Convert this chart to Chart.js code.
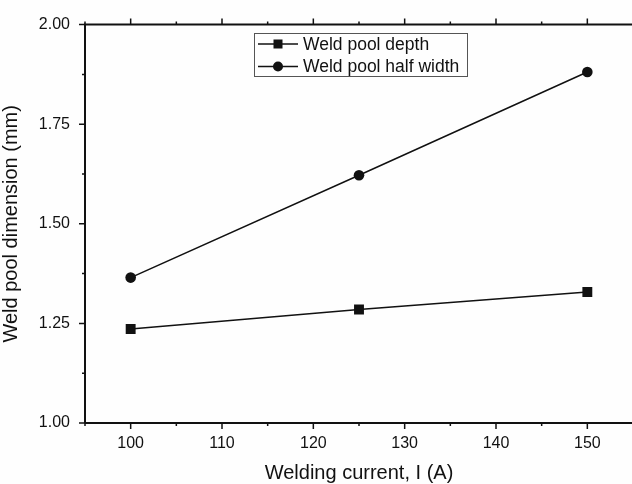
<!DOCTYPE html>
<html>
<head>
<meta charset="utf-8">
<script src="https://cdn.jsdelivr.net/npm/chart.js@4"></script>
<style>
body { margin:0; overflow:hidden; background:#fefefe; }
#wrap { position:absolute; left:0; top:0; width:640px; height:484px; }
</style>
</head>
<body>
<div id="wrap"><canvas id="chart"></canvas></div>
<script>
// ----------------------------------------------------------------------
const currents = [100, 125, 150]
const pool_depth = [1.236, 1.285, 1.329]
const pool_half_width = [1.365, 1.622, 1.881]
const x_ticks = [100, 110, 120, 130, 140, 150]
const y_ticks = [1.00, 1.25, 1.50, 1.75, 2.00]
const x_title = "Welding current, I (A)"
const y_title = "Weld pool dimension (mm)"

const FONT = "'Liberation Sans', Arial, sans-serif"
const INK = "#111"

// ----------------------------------------------------------------------
function to_points (xs, ys)
{
	return xs.map ((x, i) => ({x: x, y: ys[i]}))
}

// axis frame, ticks and legend, drawn on top of the chart
const frame_plugin = {
	id: 'frame',
	afterDraw (chart)
	{
		const ctx = chart.ctx
		const a = chart.chartArea
		const sx = chart.scales.x
		const sy = chart.scales.y
		ctx.save ()
		ctx.strokeStyle = INK
		ctx.lineWidth = 2
		ctx.beginPath ()
		ctx.moveTo (a.left, a.bottom)
		ctx.lineTo (a.left, a.top)
		ctx.lineTo (a.right, a.top)
		ctx.lineTo (a.right, a.bottom)
		ctx.lineTo (a.left, a.bottom)
		ctx.stroke ()

		ctx.lineWidth = 1.5
		ctx.beginPath ()
		for (let v = 95; v <= 155; v += 5)
			{
			const px = sx.getPixelForValue (v)
			const len = (v % 10 == 0) ? 6 : 3
			ctx.moveTo (px, a.bottom); ctx.lineTo (px, a.bottom + len)
			ctx.moveTo (px, a.top); ctx.lineTo (px, a.top - len)
			}
		for (let k = 0; k <= 8; k++)
			{
			const v = 1 + k * 0.125
			const py = sy.getPixelForValue (v)
			const len = (k % 2 == 0) ? 6 : 3
			ctx.moveTo (a.left, py); ctx.lineTo (a.left - len, py)
			ctx.moveTo (a.right, py); ctx.lineTo (a.right + len, py)
			}
		ctx.stroke ()

		// legend
		const bx = 254, by = 33, bw = 213, bh = 43
		ctx.fillStyle = "#fefefe"
		ctx.fillRect (bx, by, bw, bh)
		ctx.strokeStyle = "#555"
		ctx.lineWidth = 1
		ctx.strokeRect (bx + 0.5, by + 0.5, bw, bh)
		ctx.font = "17.5px " + FONT
		ctx.textBaseline = "middle"
		chart.data.datasets.forEach ((ds, i) =>
			{
			const cy = 44 + i * 22.5
			ctx.strokeStyle = INK
			ctx.lineWidth = 1.5
			ctx.beginPath ()
			ctx.moveTo (258, cy); ctx.lineTo (298, cy)
			ctx.stroke ()
			ctx.fillStyle = INK
			if (ds.pointStyle == 'rect')
				ctx.fillRect (278 - 4.5, cy - 4.5, 9, 9)
			else
				{
				ctx.beginPath ()
				ctx.arc (278, cy, 5, 0, Math.PI * 2)
				ctx.fill ()
				}
			ctx.fillText (ds.label, 303, cy + 1)
			})
		ctx.restore ()
	}
}

// ----------------------------------------------------------------------
const graph_data = {
	datasets: [
		{
		label: "Weld pool depth",
		data: to_points (currents, pool_depth),
		pointStyle: 'rect',
		pointRadius: 7,
		},
		{
		label: "Weld pool half width",
		data: to_points (currents, pool_half_width),
		pointStyle: 'circle',
		pointRadius: 5.3,
		}
	]
}
graph_data.datasets.forEach (ds =>
	{
	ds.showLine = true
	ds.borderColor = INK
	ds.backgroundColor = INK
	ds.borderWidth = 1.5
	ds.pointBorderWidth = 0
	ds.pointHoverRadius = ds.pointRadius
	})

const config = {
	type: 'scatter',
	data: graph_data,
	options: {
		responsive: true,
		maintainAspectRatio: false,
		animation: false,
		layout: { padding: { top: 20, right: 6, left: 0, bottom: 0 } },
		plugins: { legend: { display: false }, tooltip: { enabled: false } },
		scales: {
			x: {
				type: 'linear', min: 95, max: 155,
				grid: { display: false, drawTicks: false },
				border: { display: false },
				afterBuildTicks: s => { s.ticks = x_ticks.map (v => ({value: v})) },
				afterFit: s => { s.height = 61 },
				ticks: { color: INK, padding: 11, font: { family: FONT, size: 16 } },
				title: { display: true, text: x_title, color: INK,
					font: { family: FONT, size: 20, lineHeight: 1.1 }, padding: { top: 0, bottom: 0 } }
			},
			y: {
				type: 'linear', min: 1, max: 2,
				grid: { display: false, drawTicks: false },
				border: { display: false },
				afterBuildTicks: s => { s.ticks = y_ticks.map (v => ({value: v})) },
				afterFit: s => { s.width = 85 },
				ticks: { color: INK, padding: 15, font: { family: FONT, size: 16 },
					callback: v => v.toFixed (2) },
				title: { display: true, text: y_title, color: INK,
					font: { family: FONT, size: 20, lineHeight: 1.1 }, padding: { top: 0, bottom: 9 } }
			}
		}
	},
	plugins: [frame_plugin]
}

const chart = new Chart (document.getElementById ("chart"), config)
</script>
</body>
</html>
